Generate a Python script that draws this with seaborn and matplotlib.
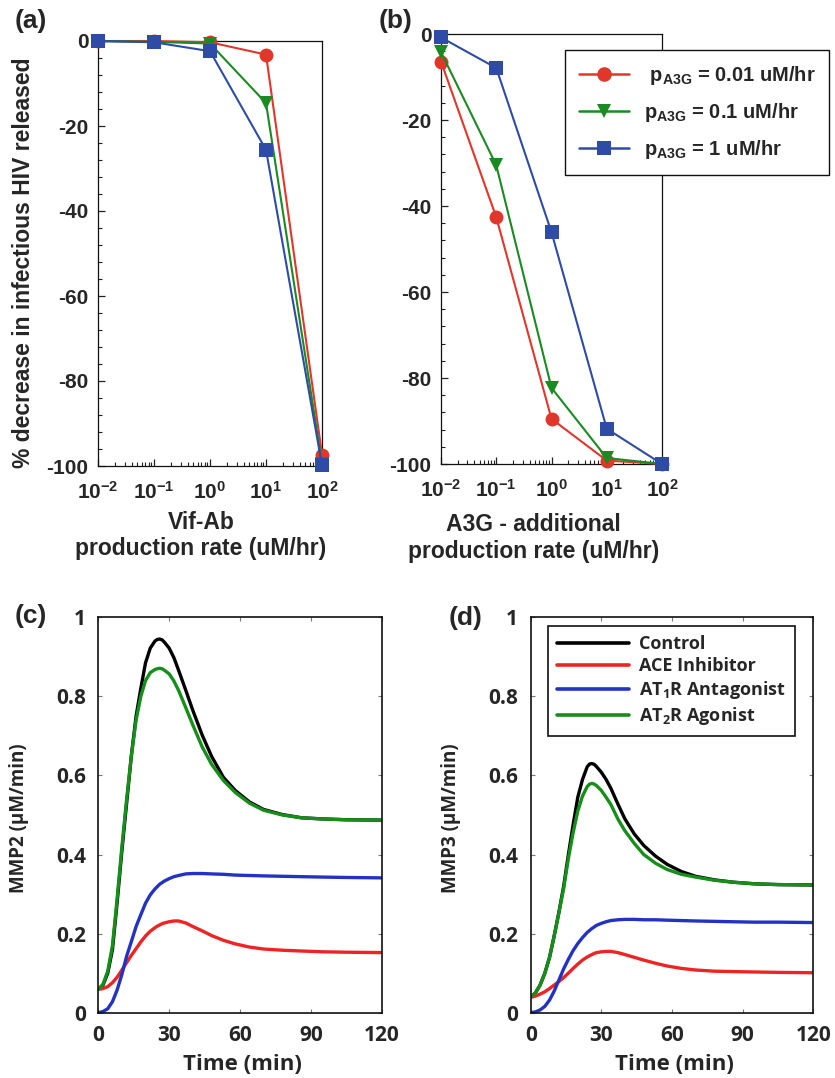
import numpy as np
import pandas as pd
import matplotlib
matplotlib.use("Agg")
import matplotlib.pyplot as plt
from matplotlib.ticker import LogLocator, MultipleLocator, NullFormatter
import seaborn as sns

# ---------------- panels (a), (b): % change vs production rate ----------------
rates = [0.01, 0.1, 1, 10, 100]
rate_exponents = [-2, -1, 0, 1, 2]
pct_ticks = [0, -20, -40, -60, -80, -100]
series_names = [" $\\mathdefault{p_{A3G}}$ = 0.01 uM/hr",
                "$\\mathdefault{p_{A3G}}$ = 0.1 uM/hr",
                "$\\mathdefault{p_{A3G}}$ = 1 uM/hr"]
dose_colors = ["#E2362B", "#1B8A22", "#2E4CA6"]
dose_markers = ["o", "v", "s"]

vif_low = [0, 0, -0.3, -3.2, -97.3]
vif_mid = [0, -0.2, -0.6, -14.6, -99.5]
vif_high = [0, -0.3, -2.4, -25.6, -99.8]

a3g_low = [-6.4, -42.6, -89.5, -99.2, -100]
a3g_mid = [-4.2, -30.5, -82.3, -98.6, -100]
a3g_high = [-0.8, -7.9, -46.1, -91.8, -100]

# ---------------- panels (c), (d): MMP time courses ----------------
time_min = [0, 2, 4, 6, 8, 10, 12, 14, 16, 18, 20, 22, 24, 25, 26, 27, 28, 30, 32, 34,
            37, 40, 44, 48, 53, 58, 64, 70, 78, 86, 95, 105, 120]
condition_names = ["Control", "ACE Inhibitor", "AT$_\\mathdefault{1}$R Antagonist",
                   "AT$_\\mathdefault{2}$R Agonist"]
condition_colors = ["#000000", "#EE2424", "#2432C4", "#168E1A"]

mmp2_control = [0.059, 0.07, 0.10, 0.16, 0.28, 0.41, 0.53, 0.65, 0.75, 0.82, 0.885,
                0.922, 0.94, 0.944, 0.945, 0.943, 0.937, 0.922, 0.898, 0.866, 0.816,
                0.765, 0.702, 0.648, 0.595, 0.562, 0.533, 0.514, 0.501, 0.493, 0.49,
                0.488, 0.487]
mmp2_ace = [0.059, 0.061, 0.066, 0.076, 0.09, 0.108, 0.127, 0.145, 0.162, 0.179, 0.194,
            0.206, 0.215, 0.219, 0.222, 0.225, 0.227, 0.23, 0.232, 0.232, 0.227, 0.218,
            0.207, 0.195, 0.183, 0.174, 0.166, 0.161, 0.158, 0.156, 0.154, 0.153, 0.152]
mmp2_at1 = [0.0, 0.003, 0.01, 0.028, 0.058, 0.097, 0.143, 0.18, 0.218, 0.248, 0.277,
            0.298, 0.313, 0.319, 0.325, 0.329, 0.333, 0.339, 0.344, 0.347, 0.351, 0.352,
            0.352, 0.351, 0.35, 0.348, 0.347, 0.346, 0.345, 0.344, 0.343, 0.342, 0.341]
mmp2_at2 = [0.059, 0.072, 0.105, 0.17, 0.29, 0.42, 0.54, 0.65, 0.74, 0.80, 0.84,
            0.86, 0.868, 0.87, 0.871, 0.87, 0.866, 0.857, 0.839, 0.815, 0.772, 0.728,
            0.672, 0.628, 0.587, 0.557, 0.53, 0.512, 0.50, 0.493, 0.49, 0.488, 0.487]

mmp3_control = [0.039, 0.05, 0.07, 0.10, 0.14, 0.195, 0.255, 0.32, 0.40, 0.475, 0.545,
                0.59, 0.622, 0.629, 0.63, 0.628, 0.622, 0.608, 0.59, 0.568, 0.528, 0.49,
                0.452, 0.423, 0.396, 0.375, 0.357, 0.345, 0.336, 0.33, 0.326, 0.324, 0.323]
mmp3_ace = [0.039, 0.042, 0.047, 0.053, 0.061, 0.07, 0.079, 0.089, 0.10, 0.112, 0.123,
            0.133, 0.141, 0.144, 0.147, 0.15, 0.152, 0.154, 0.155, 0.155, 0.152, 0.147,
            0.14, 0.133, 0.125, 0.118, 0.112, 0.108, 0.105, 0.104, 0.103, 0.102, 0.101]
mmp3_at1 = [0.0, 0.002, 0.007, 0.016, 0.032, 0.055, 0.083, 0.111, 0.135, 0.157, 0.175,
            0.19, 0.203, 0.208, 0.213, 0.217, 0.221, 0.226, 0.23, 0.233, 0.235, 0.236,
            0.236, 0.235, 0.235, 0.234, 0.233, 0.232, 0.231, 0.23, 0.229, 0.229, 0.228]
mmp3_at2 = [0.039, 0.05, 0.07, 0.10, 0.14, 0.195, 0.253, 0.315, 0.39, 0.455, 0.51,
            0.548, 0.572, 0.578, 0.58, 0.578, 0.574, 0.562, 0.545, 0.527, 0.49, 0.46,
            0.428, 0.40, 0.378, 0.362, 0.35, 0.343, 0.335, 0.33, 0.326, 0.324, 0.323]

time_ticks = [0, 30, 60, 90, 120]
mmp_ticks = [0, 0.2, 0.4, 0.6, 0.8, 1]
mmp_tick_labels = ["0", "0.2", "0.4", "0.6", "0.8", "1"]

# ---------------- style ----------------
sns.set_style("white")
plt.rcParams["font.family"] = ["Liberation Sans", "DejaVu Sans"]
plt.rcParams["font.weight"] = "bold"
plt.rcParams["axes.unicode_minus"] = False
plt.rcParams["mathtext.fontset"] = "custom"
plt.rcParams["mathtext.rm"] = "Liberation Sans:bold"
plt.rcParams["mathtext.it"] = "Liberation Sans:bold"
plt.rcParams["mathtext.bf"] = "Liberation Sans:bold"

HEL = "Liberation Sans"
CAL = "Open Sans"

W, H = 835, 1078
fig = plt.figure(figsize=(W / 100, H / 100), dpi=100)


def px_axes(left, top, right, bottom):
    return fig.add_axes([left / W, 1 - bottom / H, (right - left) / W, (bottom - top) / H])


def dose_panel(ax, low, mid, high, show_legend):
    df = pd.DataFrame({
        "rate": rates * 3,
        "pct": low + mid + high,
        "series": [s for s in series_names for _ in rates],
    })
    sns.lineplot(data=df, x="rate", y="pct", hue="series", style="series",
                 hue_order=series_names, style_order=series_names,
                 palette=dict(zip(series_names, dose_colors)),
                 markers=dict(zip(series_names, dose_markers)), dashes=False,
                 estimator=None, sort=False, lw=1.5, ms=10, mew=0,
                 clip_on=False, zorder=4, legend=show_legend, ax=ax)
    ax.set_xscale("log")
    ax.set_xlim(1e-2, 1e2)
    ax.set_ylim(-100, 0)
    ax.set_xticks([10.0 ** e for e in rate_exponents],
                  labels=["$\\mathdefault{10^{%d}}$" % e for e in rate_exponents],
                  fontsize=15, fontfamily=HEL, fontweight="bold")
    ax.xaxis.set_minor_locator(LogLocator(base=10, subs=np.arange(2, 10)))
    ax.xaxis.set_minor_formatter(NullFormatter())
    ax.set_yticks(pct_ticks, labels=[str(v) for v in pct_ticks],
                  fontsize=15, fontfamily=HEL, fontweight="bold")
    ax.yaxis.set_minor_locator(MultipleLocator(4))
    ax.tick_params(axis="both", which="major", direction="in", length=5, width=0.9,
                   color="#222222", bottom=True, left=True, top=False, right=False)
    ax.tick_params(axis="both", which="minor", direction="in", length=2.8, width=0.8,
                   color="#222222", bottom=True, left=True, top=False, right=False)
    ax.tick_params(axis="y", which="major", pad=7)
    ax.tick_params(axis="x", which="major", pad=11)
    for sp in ax.spines.values():
        sp.set_linewidth(0.9)
        sp.set_color("#111111")
    ax.grid(False)


# (a)
ax_a = px_axes(98, 41, 322, 466)
dose_panel(ax_a, vif_low, vif_mid, vif_high, False)
ax_a.set_xlabel("Vif-Ab\nproduction rate (uM/hr)", fontsize=16.5, fontfamily=HEL,
                fontweight="bold", linespacing=1.2)
ax_a.xaxis.set_label_coords(0.46, -0.105)
ax_a.set_ylabel("% decrease in infectious HIV released", fontsize=16.5, fontfamily=HEL,
                fontweight="bold")
ax_a.yaxis.set_label_coords(-0.28, 0.478)

# (b)
ax_b = px_axes(441, 34, 662, 464)
dose_panel(ax_b, a3g_low, a3g_mid, a3g_high, True)
ax_b.set_xlabel("A3G - additional\nproduction rate (uM/hr)", fontsize=16.5, fontfamily=HEL,
                fontweight="bold", linespacing=1.2)
ax_b.xaxis.set_label_coords(0.42, -0.115)
ax_b.set_ylabel("")
handles, labels = ax_b.get_legend_handles_labels()
for h in handles:
    h.set_markersize(10.5)
    h.set_linewidth(1.8)
    h.set_markeredgewidth(0)
ax_b.legend(handles, labels, loc="upper left", bbox_to_anchor=(565 / W, 1 - 50 / H),
            bbox_transform=fig.transFigure, borderaxespad=0, frameon=True, fancybox=False,
            edgecolor="#111111", framealpha=1, borderpad=0.7, handlelength=2.5,
            handletextpad=0.7, labelspacing=0.7,
            prop={"family": HEL, "weight": "bold", "size": 14.5})
ax_b.get_legend().get_frame().set_linewidth(1.0)


def mmp_panel(ax, control, ace, at1, at2, ylabel, show_legend):
    series = [control, ace, at1, at2]
    df = pd.DataFrame({
        "t": time_min * 4,
        "v": [v for s in series for v in s],
        "cond": [c for c in condition_names for _ in time_min],
    })
    sns.lineplot(data=df, x="t", y="v", hue="cond", hue_order=condition_names,
                 palette=dict(zip(condition_names, condition_colors)),
                 estimator=None, sort=False, lw=2.4, legend=show_legend, ax=ax)
    ax.set_xlim(0, 120)
    ax.set_ylim(0, 1)
    ax.set_xticks(time_ticks, labels=[str(t) for t in time_ticks], fontsize=15,
                  fontfamily=CAL, fontweight="bold")
    ax.set_yticks(mmp_ticks, labels=mmp_tick_labels, fontsize=15, fontfamily=CAL,
                  fontweight="bold")
    ax.tick_params(axis="both", direction="in", length=3, width=0.8, color="#777777",
                   top=True, right=True, bottom=True, left=True, pad=9)
    for sp in ax.spines.values():
        sp.set_linewidth(1.2)
        sp.set_color("#111111")
    ax.set_xlabel("Time (min)", fontsize=16, fontfamily=CAL, fontweight="bold")
    ax.xaxis.set_label_coords(0.51, -0.105)
    ax.set_ylabel(ylabel, fontsize=13.5, fontfamily=CAL, fontweight="bold")
    ax.yaxis.set_label_coords(-0.245, 0.491)
    ax.grid(False)


ax_c = px_axes(98.3, 617.3, 381.7, 1012.7)
mmp_panel(ax_c, mmp2_control, mmp2_ace, mmp2_at1, mmp2_at2, "MMP2 (\u00b5M/min)", False)

ax_d = px_axes(530.7, 617.3, 813.3, 1012.7)
mmp_panel(ax_d, mmp3_control, mmp3_ace, mmp3_at1, mmp3_at2, "MMP3 (\u00b5M/min)", True)
handles, labels = ax_d.get_legend_handles_labels()
for h in handles:
    h.set_linewidth(2.6)
ax_d.legend(handles, labels, loc="upper left", bbox_to_anchor=(548 / W, 1 - 626 / H),
            bbox_transform=fig.transFigure, borderaxespad=0, frameon=True, fancybox=False,
            edgecolor="#111111", framealpha=1, borderpad=0.5, handlelength=4.0,
            handletextpad=0.55, labelspacing=0.22,
            prop={"family": CAL, "weight": "bold", "size": 13})
ax_d.get_legend().get_frame().set_linewidth(1.2)

# panel letters
for letter, (x, y) in zip("abcd", [(31, 21), (396, 21), (31, 616), (466, 618)]):
    fig.text(x / W, 1 - y / H, "(%s)" % letter, ha="center", va="center",
             fontsize=19, fontfamily=HEL, fontweight="bold")

fig.savefig("out.png", dpi=100)
